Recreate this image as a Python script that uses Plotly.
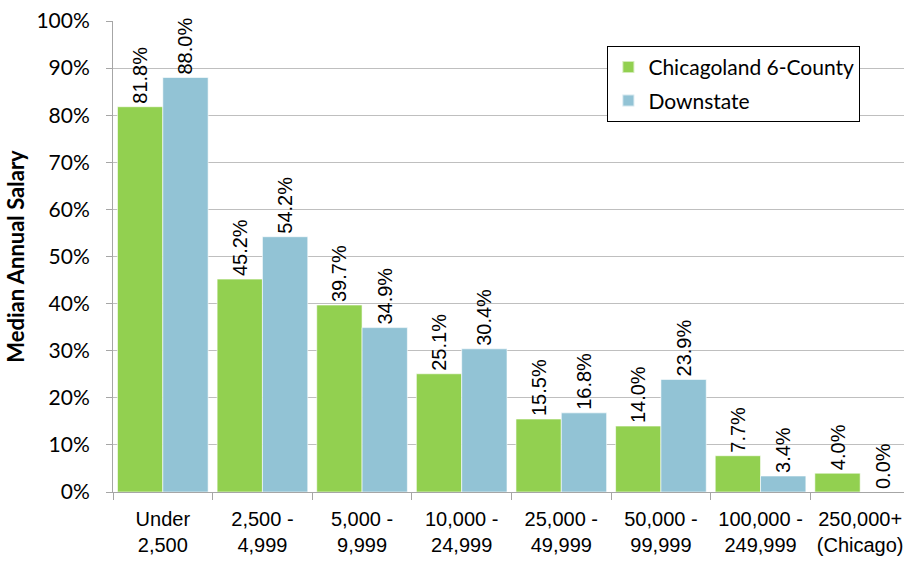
import plotly.graph_objects as go

categories = ["Under<br>2,500", "2,500 -<br>4,999", "5,000 -<br>9,999", "10,000 -<br>24,999",
              "25,000 -<br>49,999", "50,000 -<br>99,999", "100,000 -<br>249,999", "250,000+<br>(Chicago)"]
chicagoland = [81.8, 45.2, 39.7, 25.1, 15.5, 14.0, 7.7, 4.0]
downstate = [88.0, 54.2, 34.9, 30.4, 16.8, 23.9, 3.4, 0.0]
y_ticks = [0, 10, 20, 30, 40, 50, 60, 70, 80, 90, 100]

arial = "Liberation Sans, Arial, sans-serif"
cal_font = "Lato, Carlito, Calibri, sans-serif"

fig = go.Figure()
for i, (name, vals, col) in enumerate([("Chicagoland 6-County", chicagoland, "#92D050"),
                                       ("Downstate", downstate, "#92C3D5")]):
    fig.add_trace(go.Bar(
        x=categories, y=vals, name=name, legendgroup=f"g{i}",
        marker=dict(color=col, line=dict(color="rgba(255,255,255,0.6)", width=1)),
        text=[f"{v:.1f}%" for v in vals],
        textposition="outside", textangle=-90,
        textfont=dict(family=arial, size=20, color="#000000"),
        cliponaxis=False, constraintext="none",
    ))

fig.update_layout(
    width=904, height=563,
    margin=dict(l=113, r=0, t=21, b=71),
    paper_bgcolor="white", plot_bgcolor="white",
    barmode="group", bargap=0.09, bargroupgap=0,
    showlegend=True,
    legend=dict(x=0.625, y=0.947, xanchor="left", yanchor="top",
                bgcolor="white", bordercolor="#000000", borderwidth=1,
                font=dict(family=cal_font, size=21, color="#000000"),
                itemsizing="constant", tracegroupgap=3),
    xaxis=dict(range=[-0.5, 7.44], showgrid=False, showline=True, linecolor="#A6A6A6", linewidth=1,
               ticks="outside", ticklen=7, tickcolor="#A6A6A6", tickson="boundaries",
               tickfont=dict(family=arial, size=20, color="#000000"), ticklabelstandoff=9),
    yaxis=dict(range=[0, 100], tickvals=y_ticks, ticktext=[f"{v}%" for v in y_ticks],
               showgrid=True, gridcolor="#BFBFBF", gridwidth=1,
               showline=True, linecolor="#A6A6A6", linewidth=1,
               ticks="outside", ticklen=6, tickcolor="#A6A6A6",
               tickfont=dict(family=cal_font, size=21, color="#000000"), ticklabelstandoff=12,
               title=dict(text="<b>Median Annual Salary</b>", font=dict(family=cal_font, size=22, color="#000000"),
                          standoff=5),
               zeroline=False),
)

fig.write_html("out.html")
